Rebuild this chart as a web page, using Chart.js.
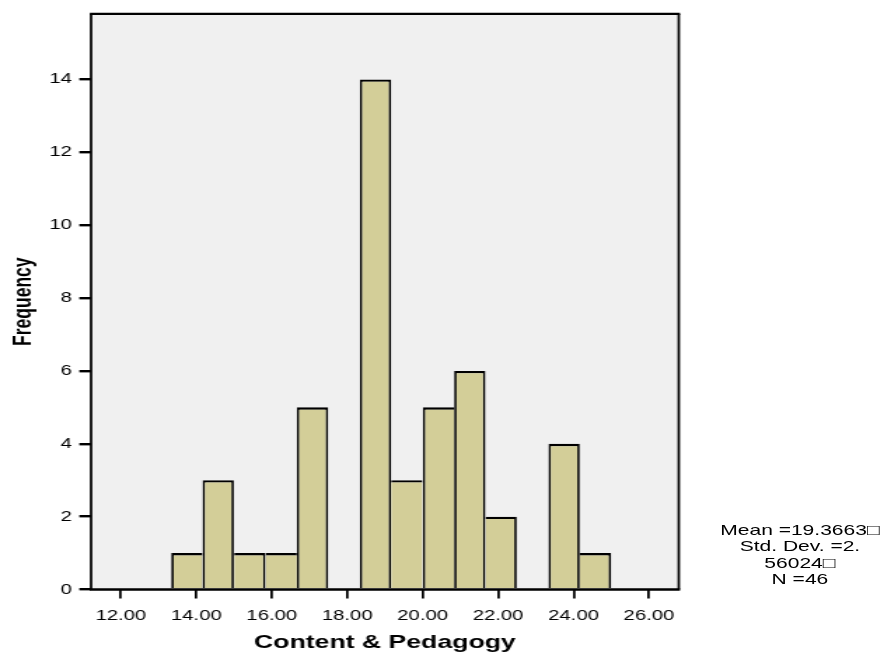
<!DOCTYPE html>
<html><head><meta charset="utf-8">
<script src="https://cdn.jsdelivr.net/npm/chart.js@4.4.1/dist/chart.umd.min.js"></script>
<style>
html,body{margin:0;padding:0;background:#fff;width:891px;height:659px;overflow:hidden}
#wrap{position:absolute;left:0;top:0;width:636px;height:659px;transform:scaleX(1.40094);transform-origin:0 0}
#c{position:absolute;left:0;top:0}
#stats{position:absolute;left:511px;width:120px;top:522px;text-align:center;font:15px/16.4px "Liberation Sans",Arial,sans-serif;color:#000;white-space:pre}
</style></head><body>
<div id="wrap"><canvas id="c" width="636" height="659"></canvas><div id="stats"></div></div>
<script>
// Histogram data
const binMidpoints = [13.75, 14.58, 15.42, 16.25, 17.08, 17.92, 18.75, 19.58, 20.42, 21.25, 22.08, 22.92, 23.75, 24.58];
const frequencies  = [1, 3, 1, 1, 5, 0, 14, 3, 5, 6, 2, 0, 4, 1];
const xTickValues  = [12, 14, 16, 18, 20, 22, 24, 26];
const yTickValues  = [0, 2, 4, 6, 8, 10, 12, 14];
const xAxisTitle   = 'Content & Pedagogy';
const yAxisTitle   = 'Frequency';
const statsLines   = ['Mean =19.3663\u25A1', 'Std. Dev. =2.', '56024\u25A1', 'N =46'];

document.getElementById('stats').textContent = statsLines.join('\n');

const VW = 1.75, HW = 2.4; // vertical / horizontal line widths (before horizontal stretch)
const FONT = '"Liberation Sans", Arial, sans-serif';

const framePlugin = {
  id: 'frame',
  beforeDraw(chart) {
    const {ctx, chartArea: a} = chart;
    ctx.save();
    ctx.fillStyle = '#f0f0f0';
    ctx.fillRect(a.left, a.top, a.right - a.left, a.bottom - a.top);
    ctx.restore();
  },
  afterDatasetsDraw(chart) {
    const {ctx, chartArea: a} = chart;
    ctx.save();
    ctx.strokeStyle = '#000';
    ctx.lineWidth = HW;
    ctx.beginPath();
    ctx.moveTo(a.left - VW / 2, a.top); ctx.lineTo(a.right + VW / 2, a.top);
    ctx.moveTo(a.left - VW / 2, a.bottom); ctx.lineTo(a.right + VW / 2, a.bottom);
    ctx.stroke();
    ctx.lineWidth = VW;
    ctx.beginPath();
    ctx.moveTo(a.left, a.top); ctx.lineTo(a.left, a.bottom);
    ctx.moveTo(a.right, a.top); ctx.lineTo(a.right, a.bottom);
    ctx.stroke();
    ctx.restore();
  }
};

new Chart(document.getElementById('c'), {
  type: 'bar',
  data: {
    datasets: [{
      data: binMidpoints.map((m, i) => ({x: m, y: frequencies[i]})),
      backgroundColor: '#d3ce98',
      borderColor: '#000',
      borderSkipped: 'start',
      inflateAmount: 0,
      borderWidth: (ctx) => {
        const i = ctx.dataIndex;
        const v = frequencies[i];
        const prev = i > 0 ? frequencies[i - 1] : 0;
        const next = i < frequencies.length - 1 ? frequencies[i + 1] : 0;
        return {top: HW, bottom: 0, left: prev < v ? VW : 0, right: next <= v ? VW : 0};
      },
      barPercentage: 1,
      categoryPercentage: 1
    }]
  },
  options: {
    responsive: false,
    animation: false,
    layout: {padding: {top: 12.5, right: 151.5, bottom: 0, left: 0}},
    plugins: {legend: {display: false}, tooltip: {enabled: false}},
    scales: {
      x: {
        type: 'linear',
        min: 11.21,
        max: 26.79,
        offset: false,
        afterBuildTicks: (s) => { s.ticks = xTickValues.map(v => ({value: v})); },
        afterFit: (s) => { s.height = 69.5; },
        border: {display: false},
        grid: {offset: false, drawOnChartArea: false, drawTicks: true, tickLength: 9, color: '#000', lineWidth: VW},
        ticks: {padding: 8.3, color: '#000', font: {family: FONT, size: 14.5}, maxRotation: 0, autoSkip: false,
                callback: (v) => Number(v).toFixed(2)},
        title: {display: true, text: xAxisTitle, color: '#000', font: {family: FONT, size: 19, weight: 'bold'},
                padding: {top: 0, bottom: 4.6}}
      },
      y: {
        min: 0,
        max: 15.8,
        afterBuildTicks: (s) => { s.ticks = yTickValues.map(v => ({value: v})); },
        afterFit: (s) => { s.width = 65; },
        border: {display: false},
        grid: {drawOnChartArea: false, drawTicks: true, tickLength: 8.4, color: '#000', lineWidth: HW},
        ticks: {padding: 5.2, color: '#000', font: {family: FONT, size: 14.5}, autoSkip: false,
                callback: (v) => String(v)},
        title: {display: true, text: yAxisTitle, color: '#000', font: {family: FONT, size: 17.5, weight: 'bold'},
                padding: {top: 6.7, bottom: 0}}
      }
    }
  },
  plugins: [framePlugin]
});
</script>
</body></html>
